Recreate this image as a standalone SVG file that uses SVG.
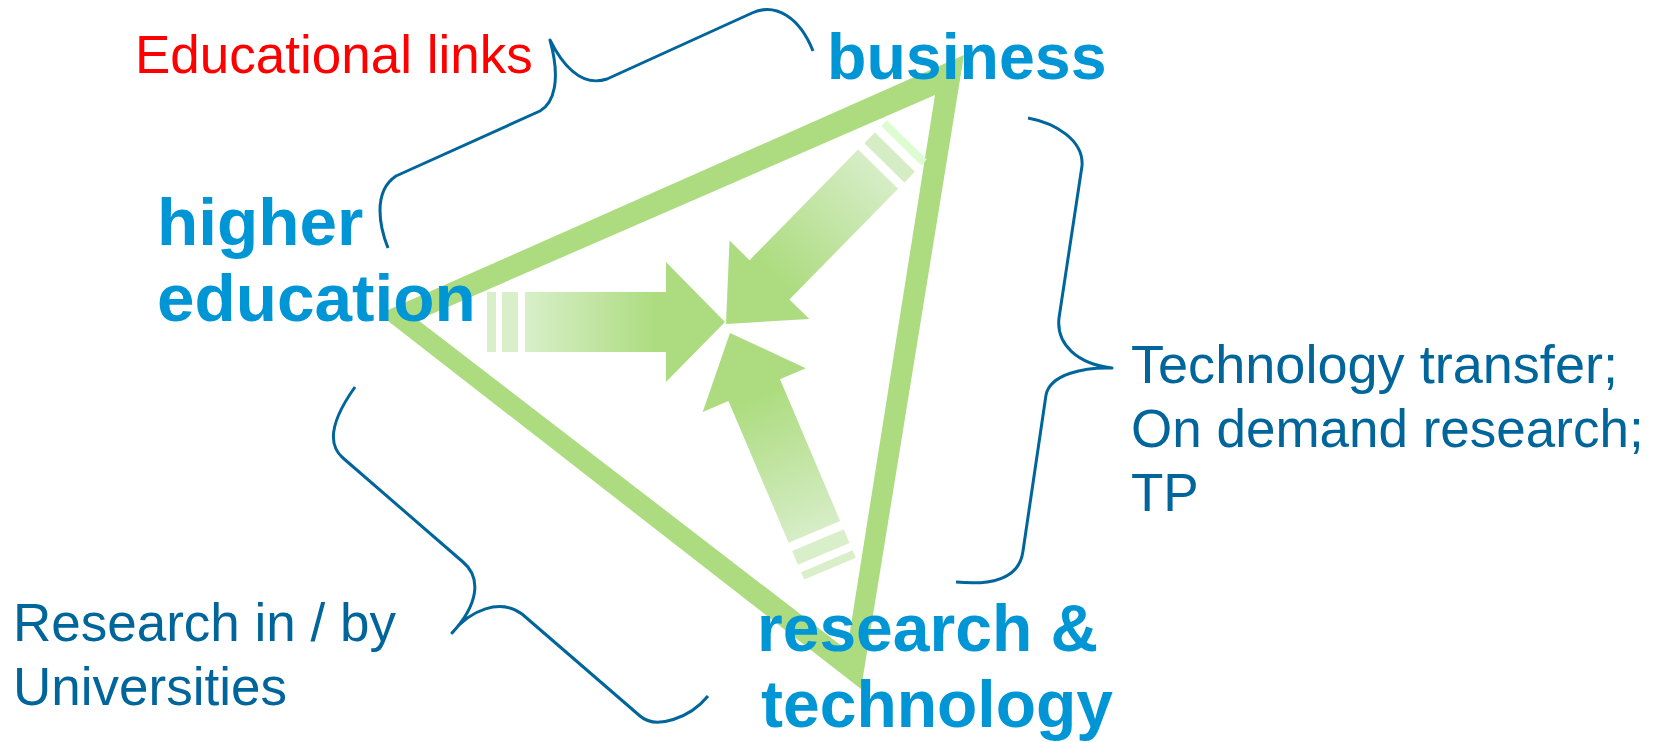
<svg xmlns="http://www.w3.org/2000/svg" width="1665" height="742" viewBox="0 0 1665 742">
  <style>
    .head { font-family: "Liberation Sans", Arial, sans-serif; font-weight: bold; fill: #0096d6; }
    .note { font-family: "Liberation Sans", Arial, sans-serif; font-size: 53px; fill: #00659b; }
    .brace { fill: none; stroke: #00659b; stroke-width: 3; stroke-linecap: butt; stroke-linejoin: round; }
    .tri { fill: #addc80; fill-rule: evenodd; }
    .stripe { fill: #d9efc9; }
  </style>
  <defs>
    <linearGradient id="g1" gradientUnits="userSpaceOnUse" x1="-200" y1="0" x2="-70" y2="0">
      <stop offset="0" stop-color="#d8efc9"/>
      <stop offset="1" stop-color="#addc80"/>
    </linearGradient>
    <linearGradient id="g2" gradientUnits="userSpaceOnUse" x1="-216" y1="0" x2="-70" y2="0">
      <stop offset="0" stop-color="#d6edc6"/>
      <stop offset="1" stop-color="#addc80"/>
    </linearGradient>
  </defs>
  <rect width="1665" height="742" fill="#ffffff"/>

  <g id="triangle">
    <path class="tri" d="M964,55 L379,314 L861,689 Z M935,95 L418,320 L847,650 Z"/>
  </g>

  <g id="connectors">
    <g id="arrow-from-higher-education" transform="translate(725,322)">
      <rect class="stripe" x="-238" y="-30" width="9" height="60"/>
      <rect class="stripe" x="-223" y="-30" width="16" height="60"/>
      <path fill="url(#g1)" d="M-200,-30 H-59 V-60 L0,0 L-59,60 V30 H-200 Z"/>
    </g>
    <g id="arrow-from-business" transform="translate(726,324) rotate(134.5)">
      <rect x="-258" y="-28" width="8" height="56" fill="#ddfcd2"/>
      <rect x="-241" y="-28" width="15" height="56" fill="#d5ecc4"/>
      <path fill="url(#g2)" d="M-217,-28 H-62 V-56 L0,0 L-62,56 V28 H-217 Z"/>
    </g>
    <g id="arrow-from-research" transform="translate(730,333) rotate(-113)">
      <rect class="stripe" x="-256" y="-28" width="8" height="56"/>
      <rect class="stripe" x="-240" y="-28" width="15" height="56"/>
      <path fill="url(#g2)" d="M-216,-28 H-62 V-56 L0,0 L-62,56 V28 H-216 Z"/>
    </g>
  </g>

  <g id="braces">
    <path id="brace-educational" class="brace" d="M388,248 C380,228 372,192 396,176 L540,111 C554,103 561,80 550,40 C561,62 580,88 607,79 L752,13 C776,2 800,18 813,51"/>
    <path id="brace-technology" class="brace" d="M1028,118 C1055,123 1084,140 1082,166 L1059,318 C1056,345 1078,364 1112,368 C1085,367 1050,374 1046,395 L1023,551 C1020,575 998,586 956,582"/>
    <path id="brace-research" class="brace" d="M355,387 C340,408 322,440 343,458 L463,562 C482,578 478,605 452,633 C470,610 500,598 522,614 L640,716 C656,730 690,718 708,696"/>
  </g>

  <g id="node-business">
    <text class="head" x="827" y="79" font-size="64.5">business</text>
  </g>
  <g id="node-higher-education">
    <text class="head" x="157" y="245" font-size="67.5">higher</text>
    <text class="head" x="157" y="321" font-size="67.5">education</text>
  </g>
  <g id="node-research-technology">
    <text class="head" x="757" y="651" font-size="66">research &amp;</text>
    <text class="head" x="761" y="727" font-size="66">technology</text>
  </g>

  <g id="label-educational-links">
    <text x="135" y="73" font-family="Liberation Sans, Arial, sans-serif" font-size="53" fill="#ff0000">Educational links</text>
  </g>
  <g id="label-technology-transfer">
    <text class="note" x="1131" y="383" textLength="487" lengthAdjust="spacingAndGlyphs">Technology transfer;</text>
    <text class="note" x="1131" y="447">On demand research;</text>
    <text class="note" x="1131" y="511">TP</text>
  </g>
  <g id="label-research-universities">
    <text class="note" x="13" y="641">Research in / by</text>
    <text class="note" x="13" y="705">Universities</text>
  </g>
</svg>
